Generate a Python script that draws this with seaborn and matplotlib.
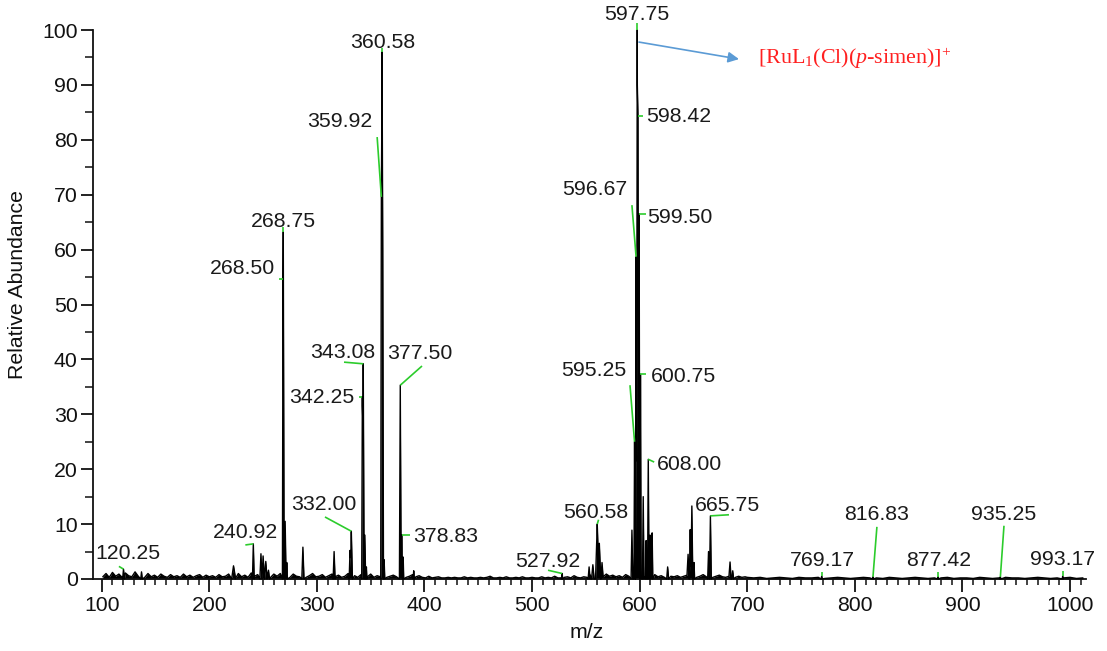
import numpy as np
import pandas as pd
import matplotlib
matplotlib.use("Agg")
import matplotlib.pyplot as plt
from matplotlib.ticker import MultipleLocator
import seaborn as sns

# ---- spectrum data -------------------------------------------------------
# centroid list: m/z, relative abundance (%), half base width (m/z units)
peak_mz = [120.25, 137.0, 222.5, 240.92, 248.0, 250.0, 252.5, 255.0,
           268.50, 268.75, 270.5, 272.0, 287.0, 316.0, 330.8, 332.00,
           342.25, 343.08, 344.6, 346.0, 359.92, 360.58, 361.2, 362.5,
           377.50, 378.83, 380.2, 390.0, 527.92, 553.0, 556.5,
           560.58, 562.5, 565.0, 592.8, 595.25, 596.67, 597.75,
           598.42, 599.50, 600.75, 603.3, 606.0, 608.00, 609.6,
           611.6, 626.0, 645.0, 647.0, 648.5, 650.5, 664.0, 665.75,
           684.0, 686.5, 769.17, 816.83, 877.42, 935.25, 993.17]
peak_ab = [1.8, 1.3, 2.4, 6.4, 4.6, 4.2, 3.2, 1.6,
           54.6, 63.2, 10.5, 3.0, 5.8, 5.0, 5.2, 8.7,
           33.2, 39.2, 8.0, 2.2, 69.6, 96.0, 60.0, 3.5,
           35.3, 8.0, 4.0, 1.5, 1.0, 2.2, 2.6,
           10.0, 6.5, 3.0, 8.9, 25.0, 58.7, 100.0,
           84.3, 66.5, 37.3, 15.0, 7.0, 21.8, 8.0,
           8.4, 2.2, 4.5, 9.0, 13.3, 3.0, 5.0, 11.5,
           3.1, 1.5, 0.5, 0.4, 0.4, 0.4, 0.5]
peak_hw = [0.8, 0.7, 1.6, 0.8, 1.0, 1.0, 1.2, 1.0,
           0.5, 0.8, 0.8, 0.6, 1.0, 0.9, 0.8, 1.0,
           0.6, 0.8, 0.7, 0.5, 0.6, 0.8, 0.6, 0.6,
           0.8, 0.6, 0.5, 0.6, 0.6, 0.9, 1.2,
           1.6, 1.3, 1.0, 0.8, 0.6, 0.6, 0.7,
           0.6, 0.6, 0.6, 0.7, 0.6, 0.7, 0.6,
           0.6, 0.9, 1.0, 0.8, 0.9, 0.6, 0.8, 0.8,
           1.0, 0.8, 0.5, 0.5, 0.5, 0.5, 0.5]

# baseline noise sampled every 3 m/z from 101 and every 6 m/z from 700
noise_low_start, noise_low_step = 101.0, 3.0
noise_low = [0.4, 1.0, 0.3, 1.2, 0.5, 0.9, 0.3, 1.1, 0.6, 0.4, 1.3, 0.5, 0.8, 0.3, 1.0, 0.4, 0.7,
             0.3, 0.9, 0.5, 0.3, 0.8, 0.4, 0.6, 0.3, 0.9, 0.4, 0.7, 0.3, 0.6, 0.8, 0.3, 0.7, 0.4,
             0.6, 0.3, 0.8, 0.4, 0.5, 0.9, 0.3, 0.6, 1.0, 0.4, 0.7, 0.3, 1.1, 0.5, 0.8, 0.4, 1.2,
             0.6, 0.3, 0.9, 0.5, 1.0, 0.4, 0.7, 0.3, 0.9, 0.5, 0.4, 0.8, 0.3, 0.6, 1.0, 0.4,
             0.5, 0.8, 0.3, 0.6, 0.9, 0.4, 0.7, 0.3, 0.5, 1.0, 0.4, 0.6, 0.3, 0.8, 0.5, 0.4, 0.9,
             0.3, 0.6, 0.4, 0.8, 0.3, 0.5, 0.7, 0.4, 0.6, 0.9, 0.3, 0.5, 0.8, 0.4, 0.6, 0.3,
             0.2, 0.5, 0.2, 0.3, 0.4, 0.2, 0.2, 0.3, 0.2, 0.3, 0.2, 0.2, 0.4, 0.2, 0.3, 0.2, 0.2,
             0.3, 0.2, 0.3, 0.5, 0.2, 0.2, 0.3, 0.2, 0.4, 0.2, 0.2, 0.3, 0.2, 0.4, 0.2, 0.2, 0.3,
             0.2, 0.2, 0.4, 0.2, 0.3, 0.2, 0.5, 0.2, 0.2, 0.3, 0.4, 0.2, 0.6, 0.3, 0.2, 0.4, 0.3,
             0.7, 0.5, 0.3, 0.6, 0.4, 0.9, 0.5, 0.7, 0.4, 0.6, 0.3, 0.8, 0.5, 0.4, 0.7, 0.5,
             0.6, 0.4, 0.7, 0.5, 0.8, 0.4, 0.6, 0.3, 0.7, 0.5, 0.4, 0.6, 0.3, 0.5, 0.7, 0.4, 0.6,
             0.3, 0.5, 0.8, 0.4, 0.6, 0.3, 0.5, 0.7, 0.4, 0.3, 0.5, 0.4, 0.3, 0.5, 0.3, 0.4]
noise_high_start, noise_high_step = 700.0, 6.0
noise_high = [0.3, 0.2, 0.3, 0.1, 0.2, 0.3, 0.2, 0.1, 0.3, 0.2, 0.2, 0.3, 0.1, 0.2,
              0.3, 0.2, 0.1, 0.2, 0.3, 0.2, 0.2, 0.1, 0.3, 0.2, 0.1, 0.2, 0.3, 0.2,
              0.1, 0.2, 0.2, 0.3, 0.1, 0.2, 0.2, 0.1, 0.3, 0.2, 0.1, 0.2, 0.3, 0.2,
              0.2, 0.1, 0.2, 0.3, 0.2, 0.1, 0.2, 0.2, 0.3, 0.1, 0.2]

# annotated peaks (m/z values printed on the chart)
label_mz = [120.25, 240.92, 268.50, 268.75, 332.00, 342.25, 343.08, 359.92,
            360.58, 377.50, 378.83, 527.92, 560.58, 595.25, 596.67, 597.75,
            598.42, 599.50, 600.75, 608.00, 665.75, 769.17, 816.83, 877.42,
            935.25, 993.17]

# label text centres and leader start points (data coordinates)
label_pos = [(124.4, 4.6), (233.2, 8.4), (230.4, 56.6), (268.5, 65.2), (306.6, 13.5),
             (304.7, 33.0), (324.3, 41.3), (321.5, 83.4), (361.4, 97.8), (395.8, 41.0),
             (420.0, 7.8), (514.8, 3.1), (559.4, 12.2), (557.5, 37.9), (558.5, 70.9),
             (597.5, 102.9), (636.5, 84.2), (637.5, 65.9), (640.3, 36.8), (645.9, 20.8),
             (682.0, 13.3), (770.3, 3.3), (820.5, 11.8), (878.1, 3.3), (938.6, 11.8),
             (993.4, 3.5)]
leader_start = [(116.0, 2.3), (233.5, 6.2), (264.9, 54.6), (268.75, 64.2), (307.5, 11.3),
                (339.1, 33.2), (325.2, 39.5), (356.0, 80.5), (360.58, 96.8), (397.7, 38.8),
                (386.5, 8.0), (514.8, 1.6), (561.8, 10.8), (591.0, 35.3), (592.8, 68.1),
                (597.75, 101.3), (603.5, 84.3), (605.5, 66.5), (606.0, 37.3), (613.5, 21.3),
                (683.0, 11.7), (769.17, 1.3), (820.5, 9.5), (877.42, 1.2), (938.6, 9.7),
                (993.17, 1.5)]

ion_label = "[RuL$_1$(Cl)($\\mathit{p}$-simen)]$^{+}$"

# ---- build the profile trace --------------------------------------------
mz = np.asarray(peak_mz)
ab = np.asarray(peak_ab)
hw = np.asarray(peak_hw)
noise_x = np.concatenate([noise_low_start + noise_low_step * np.arange(len(noise_low)),
                          noise_high_start + noise_high_step * np.arange(len(noise_high))])
noise_y = np.asarray(noise_low + noise_high)

grid = np.unique(np.concatenate([mz - hw, mz, mz + hw, noise_x]))
shape = np.clip(1.0 - np.abs(grid[:, None] - mz[None, :]) / hw[None, :], 0.0, None)
profile = (shape * ab[None, :]).max(axis=1)
idx = np.searchsorted(grid, noise_x)
profile[idx] = np.maximum(profile[idx], noise_y)
spec = pd.DataFrame({"mz": grid, "abundance": profile})

# ---- figure --------------------------------------------------------------
sns.set_style("ticks")
plt.rcParams["font.family"] = ["Liberation Sans", "DejaVu Sans"]
plt.rcParams["mathtext.fontset"] = "custom"
plt.rcParams["mathtext.rm"] = "Liberation Serif"
plt.rcParams["mathtext.it"] = "Liberation Serif:italic"

fig = plt.figure(figsize=(11.07, 6.51), dpi=100)
ax = fig.add_axes([0.0840, 0.1106, 0.8970, 0.8433])

ax.fill_between(spec["mz"], spec["abundance"], 0, color="black", lw=0, zorder=2)
sns.lineplot(data=spec, x="mz", y="abundance", sort=False, estimator=None,
             color="black", lw=1.0, ax=ax, zorder=3)
for ln in ax.lines:
    ln.set_clip_on(False)

ax.set_xlim(91.9, 1014.8)
ax.set_ylim(0, 100)
ax.xaxis.set_major_locator(MultipleLocator(100))
ax.xaxis.set_minor_locator(MultipleLocator(10))
ax.yaxis.set_major_locator(MultipleLocator(10))
ax.yaxis.set_minor_locator(MultipleLocator(5))

sns.despine(ax=ax)
for side in ("left", "bottom"):
    ax.spines[side].set_linewidth(1.3)
    ax.spines[side].set_color("#111111")
ax.tick_params(axis="both", which="major", direction="out", length=9, width=1.3,
               labelsize=15.3, colors="#111111")
ax.tick_params(axis="x", which="major", pad=3.5)
ax.tick_params(axis="y", which="major", pad=2)
ax.tick_params(axis="x", which="minor", direction="out", length=4.5, width=1.1, colors="#111111")
ax.tick_params(axis="y", which="minor", direction="out", length=5.8, width=1.1, colors="#111111")

ax.set_xlabel("m/z", fontsize=15.3, color="#111111")
ax.set_ylabel("Relative Abundance", fontsize=15.3, color="#111111")
ax.xaxis.set_label_coords(0.497, -0.080)
ax.yaxis.set_label_coords(-0.066, 0.537)

# peak labels with green leader lines
peak_height = dict(zip(peak_mz, peak_ab))
for m, (tx, ty), (sx, sy) in zip(label_mz, label_pos, leader_start):
    ax.plot([sx, m], [sy, peak_height[m]], color="#2ccc2c", lw=1.2,
            solid_capstyle="butt", clip_on=False, zorder=4)
    ax.text(tx, ty, f"{m:.2f}", ha="center", va="center", fontsize=15.3,
            color="#1a1a1a", clip_on=False, zorder=5)

# assignment of the base peak
ax.annotate("", xy=(692.3, 94.7), xytext=(599.4, 97.8),
            arrowprops=dict(arrowstyle="-|>", color="#5b9bd5", lw=1.2,
                            mutation_scale=16, shrinkA=0, shrinkB=0),
            annotation_clip=False)
ax.text(710.0, 93.8, ion_label, ha="left", va="baseline", fontsize=15.8,
        color="#ff2020", family=["Liberation Serif", "DejaVu Serif"])

fig.savefig("out.png", dpi=100)
